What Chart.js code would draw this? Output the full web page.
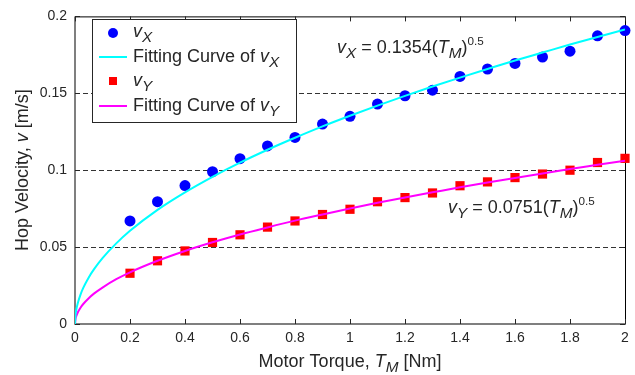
<!DOCTYPE html>
<html>
<head>
<meta charset="utf-8">
<script src="https://cdn.jsdelivr.net/npm/chart.js@4.4.1/dist/chart.umd.min.js"></script>
<style>
  html, body { margin: 0; padding: 0; background: #fff; }
  #chart { display: block; }
</style>
</head>
<body>
<canvas id="chart" width="635" height="375"></canvas>
<script>
// measured points
var torque = [0.2, 0.3, 0.4, 0.5, 0.6, 0.7, 0.8, 0.9, 1.0, 1.1, 1.2, 1.3, 1.4, 1.5, 1.6, 1.7, 1.8, 1.9, 2.0];
var vX = [0.067, 0.0795, 0.090, 0.099, 0.1075, 0.1158, 0.1213, 0.130, 0.135, 0.143, 0.1484, 0.152, 0.161, 0.1658, 0.1694, 0.1736, 0.1774, 0.1874, 0.1908];
var vY = [0.033, 0.0411, 0.0475, 0.053, 0.058, 0.063, 0.067, 0.0712, 0.0746, 0.0795, 0.0822, 0.0852, 0.0899, 0.0924, 0.0952, 0.0975, 0.100, 0.105, 0.1077];

// fitting curves
var fitT = [0, 0.002, 0.005, 0.01, 0.02, 0.03, 0.05, 0.07, 0.1, 0.15, 0.2, 0.3, 0.4, 0.5, 0.6, 0.7, 0.8, 0.9, 1.0, 1.1, 1.2, 1.3, 1.4, 1.5, 1.6, 1.7, 1.8, 1.9, 2.0];
var fitX = [0, 0.0061, 0.0096, 0.0135, 0.0191, 0.0235, 0.0303, 0.0358, 0.0428, 0.0524, 0.0606, 0.0742, 0.0856, 0.0957, 0.1049, 0.1133, 0.1211, 0.1285, 0.1354, 0.1420, 0.1483, 0.1544, 0.1602, 0.1658, 0.1713, 0.1765, 0.1817, 0.1866, 0.1915];
var fitY = [0, 0.0034, 0.0053, 0.0075, 0.0106, 0.0130, 0.0168, 0.0199, 0.0237, 0.0291, 0.0336, 0.0411, 0.0475, 0.0531, 0.0582, 0.0628, 0.0672, 0.0712, 0.0751, 0.0788, 0.0823, 0.0856, 0.0889, 0.0920, 0.0950, 0.0979, 0.1008, 0.1035, 0.1062];

var xTicks = [0, 0.2, 0.4, 0.6, 0.8, 1, 1.2, 1.4, 1.6, 1.8, 2];
var yTicks = [0, 0.05, 0.1, 0.15, 0.2];
var gridY = [0.05, 0.1, 0.15];

function pairs(xs, ys) {
  var out = [];
  for (var i = 0; i < xs.length; i++) out.push({x: xs[i], y: ys[i]});
  return out;
}

var FONT = "'Liberation Sans', Arial, Helvetica, sans-serif";
var TXT = '#262626';

function fontOf(style, size) {
  var s = size;
  if (style == 'is') s = size * 0.85;
  if (style == 'sup') s = size * 0.65;
  return ((style == 'i' || style == 'is') ? 'italic ' : '') + s + 'px ' + FONT;
}

// draw text made of pieces: '' normal, 'i' italic, 'is' italic subscript, 'sup' superscript
function drawRich(ctx, parts, x, y, size, align) {
  var w = 0, i;
  for (i = 0; i < parts.length; i++) {
    ctx.font = fontOf(parts[i][1], size);
    w += ctx.measureText(parts[i][0]).width;
  }
  var cx = align == 'center' ? x - w / 2 : x;
  ctx.fillStyle = TXT;
  ctx.textBaseline = 'alphabetic';
  ctx.textAlign = 'left';
  for (i = 0; i < parts.length; i++) {
    var st = parts[i][1];
    ctx.font = fontOf(st, size);
    var dy = 0;
    if (st == 'is') dy = size * 0.28;
    if (st == 'sup') dy = -size * 0.45;
    ctx.fillText(parts[i][0], cx, y + dy);
    cx += ctx.measureText(parts[i][0]).width;
  }
}

var frame = {
  id: 'frame',
  beforeDatasetsDraw: function(chart) {
    var ctx = chart.ctx, a = chart.chartArea;
    var xs = chart.scales.x, ys = chart.scales.y;
    ctx.save();
    // dashed grid
    ctx.strokeStyle = '#333';
    ctx.lineWidth = 1;
    ctx.setLineDash([5, 3]);
    gridY.forEach(function(v) {
      var py = Math.round(ys.getPixelForValue(v)) + 0.5;
      ctx.beginPath();
      ctx.moveTo(a.left, py);
      ctx.lineTo(a.right, py);
      ctx.stroke();
    });
    ctx.setLineDash([]);
    // box
    ctx.strokeStyle = '#000';
    ctx.lineWidth = 1;
    ctx.beginPath();
    ctx.moveTo(a.left, a.top + 0.5);
    ctx.lineTo(a.right + 0.5, a.top + 0.5);
    ctx.lineTo(a.right + 0.5, a.bottom);
    ctx.stroke();
    ctx.strokeStyle = '#555';
    ctx.lineWidth = 1.5;
    ctx.beginPath();
    ctx.moveTo(a.left, a.top);
    ctx.lineTo(a.left, a.bottom);
    ctx.lineTo(a.right + 1, a.bottom);
    ctx.stroke();
    // inward ticks
    ctx.lineWidth = 1;
    ctx.strokeStyle = '#262626';
    xTicks.forEach(function(v) {
      var px = Math.round(xs.getPixelForValue(v)) + 0.5;
      ctx.beginPath();
      ctx.moveTo(px, a.bottom); ctx.lineTo(px, a.bottom - 5);
      ctx.moveTo(px, a.top); ctx.lineTo(px, a.top + 5);
      ctx.stroke();
    });
    yTicks.forEach(function(v) {
      var py = Math.round(ys.getPixelForValue(v)) + 0.5;
      ctx.beginPath();
      ctx.moveTo(a.left, py); ctx.lineTo(a.left + 5, py);
      ctx.moveTo(a.right, py); ctx.lineTo(a.right - 5, py);
      ctx.stroke();
    });
    ctx.restore();
  },
  afterDraw: function(chart) {
    var ctx = chart.ctx, a = chart.chartArea;
    ctx.save();
    // axis titles
    drawRich(ctx, [['Motor Torque, ', ''], ['T', 'i'], ['M', 'is'], [' [Nm]', '']], (a.left + a.right) / 2, 367, 18, 'center');
    ctx.save();
    ctx.translate(28, (a.top + a.bottom) / 2);
    ctx.rotate(-Math.PI / 2);
    drawRich(ctx, [['Hop Velocity, ', ''], ['v', 'i'], [' [m/s]', '']], 0, 0, 18, 'center');
    ctx.restore();

    // fit equations
    drawRich(ctx, [['v', 'i'], ['X', 'is'], [' = 0.1354(', ''], ['T', 'i'], ['M', 'is'], [')', ''], ['0.5', 'sup']], 337, 53, 18, 'left');
    drawRich(ctx, [['v', 'i'], ['Y', 'is'], [' = 0.0751(', ''], ['T', 'i'], ['M', 'is'], [')', ''], ['0.5', 'sup']], 448, 213, 18, 'left');

    // legend
    ctx.fillStyle = '#fff';
    ctx.fillRect(92.5, 19.5, 204, 103);
    ctx.strokeStyle = '#262626';
    ctx.lineWidth = 1;
    ctx.strokeRect(92.5, 19.5, 204, 103);

    ctx.fillStyle = '#0000ff';
    ctx.beginPath();
    ctx.arc(113, 33, 5, 0, Math.PI * 2);
    ctx.fill();
    ctx.strokeStyle = '#00ffff';
    ctx.lineWidth = 2;
    ctx.beginPath();
    ctx.moveTo(99, 57); ctx.lineTo(127, 57);
    ctx.stroke();
    ctx.fillStyle = '#ff0000';
    ctx.fillRect(109, 77, 8, 8);
    ctx.strokeStyle = '#ff00ff';
    ctx.beginPath();
    ctx.moveTo(99, 106); ctx.lineTo(127, 106);
    ctx.stroke();

    drawRich(ctx, [['v', 'i'], ['X', 'is']], 133, 37, 18, 'left');
    drawRich(ctx, [['Fitting Curve of ', ''], ['v', 'i'], ['X', 'is']], 133, 62, 18, 'left');
    drawRich(ctx, [['v', 'i'], ['Y', 'is']], 133, 86, 18, 'left');
    drawRich(ctx, [['Fitting Curve of ', ''], ['v', 'i'], ['Y', 'is']], 133, 111, 18, 'left');
    ctx.restore();
  }
};

function tickText(v) {
  return String(Number(v.toFixed(2)));
}

var ctx = document.getElementById('chart');
var chart = new Chart(ctx, {
  type: 'scatter',
  data: {
    datasets: [
      {
        label: 'Fitting Curve of vX',
        data: pairs(fitT, fitX),
        showLine: true,
        borderColor: '#00ffff',
        borderWidth: 2,
        pointRadius: 0,
        cubicInterpolationMode: 'monotone',
        order: 0
      },
      {
        label: 'Fitting Curve of vY',
        data: pairs(fitT, fitY),
        showLine: true,
        borderColor: '#ff00ff',
        borderWidth: 2,
        pointRadius: 0,
        cubicInterpolationMode: 'monotone',
        order: 0
      },
      {
        label: 'vX',
        data: pairs(torque, vX),
        pointStyle: 'circle',
        pointRadius: 5.5,
        backgroundColor: '#0000ff',
        borderColor: '#0000ff',
        borderWidth: 0,
        clip: false,
        order: 1
      },
      {
        label: 'vY',
        data: pairs(torque, vY),
        pointStyle: 'rect',
        pointRadius: 6.5,
        backgroundColor: '#ff0000',
        borderColor: '#ff0000',
        borderWidth: 0,
        clip: false,
        order: 1
      }
    ]
  },
  options: {
    responsive: false,
    animation: false,
    events: [],
    layout: { padding: { left: 0, right: 10, top: 10, bottom: 0 } },
    plugins: {
      legend: { display: false },
      tooltip: { enabled: false }
    },
    scales: {
      x: {
        type: 'linear',
        min: 0,
        max: 2,
        afterFit: function(s) { s.height = 51; },
        afterBuildTicks: function(s) { s.ticks = xTicks.map(function(v) { return {value: v}; }); },
        grid: { display: false, drawTicks: false },
        border: { display: false },
        ticks: {
          padding: 6,
          color: TXT,
          font: { family: FONT, size: 14 },
          callback: tickText
        }
      },
      y: {
        type: 'linear',
        min: 0,
        max: 0.2,
        afterFit: function(s) { s.width = 75; },
        afterBuildTicks: function(s) { s.ticks = yTicks.map(function(v) { return {value: v}; }); },
        grid: { display: false, drawTicks: false },
        border: { display: false },
        ticks: {
          padding: 8,
          color: TXT,
          font: { family: FONT, size: 14 },
          callback: tickText
        }
      }
    }
  },
  plugins: [frame]
});
</script>
</body>
</html>
